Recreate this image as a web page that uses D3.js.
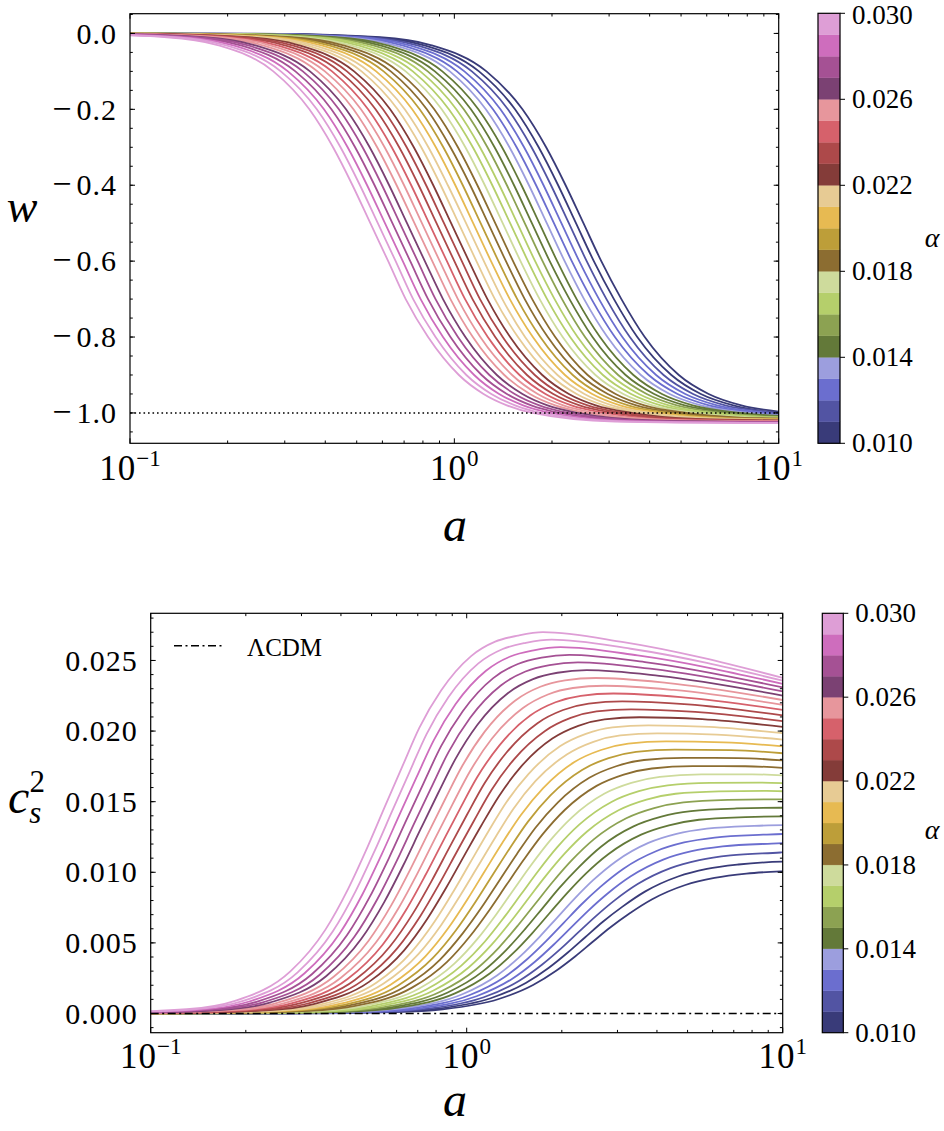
<!DOCTYPE html>
<html><head><meta charset="utf-8">
<script src="https://cdn.jsdelivr.net/npm/d3@7"></script>
<style>
body{margin:0;background:#fff}
svg{display:block}
</style>
</head><body><svg id="chart" width="944" height="1131"></svg>
<script>
// ---------------- data ----------------
const alphas = [0.01000,0.01069,0.01138,0.01207,0.01276,0.01345,0.01414,0.01483,0.01552,0.01621,
  0.01690,0.01759,0.01828,0.01897,0.01966,0.02034,0.02103,0.02172,0.02241,0.02310,
  0.02379,0.02448,0.02517,0.02586,0.02655,0.02724,0.02793,0.02862,0.02931,0.03000];

// w levels at which each curve's position (log10 a) was read
const wLevels = [-0.001,-0.01,-0.03,-0.1,-0.2,-0.3,-0.4,-0.5,-0.6,-0.7,-0.8,-0.9,-0.95,-0.98,-1.0];

// log10(a) of each level crossing (15 values) + one point near the asymptote
const logA = [
[-0.543,-0.229,-0.076,0.099,0.210,0.283,0.343,0.398,0.453,0.515,0.587,0.692,0.784,0.885,1.049,1.153],
[-0.566,-0.252,-0.099,0.076,0.187,0.260,0.320,0.375,0.430,0.492,0.564,0.669,0.760,0.860,1.021,1.130],
[-0.588,-0.274,-0.121,0.054,0.165,0.238,0.298,0.353,0.408,0.469,0.541,0.645,0.736,0.835,0.993,1.108],
[-0.611,-0.297,-0.144,0.031,0.142,0.215,0.275,0.330,0.385,0.446,0.518,0.622,0.712,0.810,0.965,1.085],
[-0.634,-0.320,-0.167,0.008,0.119,0.192,0.252,0.307,0.362,0.423,0.495,0.599,0.688,0.785,0.938,1.062],
[-0.656,-0.342,-0.189,-0.014,0.097,0.170,0.230,0.285,0.340,0.400,0.472,0.575,0.664,0.760,0.910,1.040],
[-0.679,-0.365,-0.212,-0.037,0.074,0.147,0.207,0.262,0.317,0.377,0.449,0.552,0.640,0.735,0.882,1.017],
[-0.702,-0.388,-0.235,-0.060,0.051,0.124,0.184,0.239,0.294,0.355,0.426,0.528,0.616,0.710,0.854,0.994],
[-0.724,-0.410,-0.257,-0.082,0.029,0.102,0.162,0.217,0.272,0.332,0.403,0.505,0.593,0.686,0.826,0.972],
[-0.747,-0.433,-0.280,-0.105,0.006,0.079,0.139,0.194,0.249,0.309,0.380,0.482,0.569,0.661,0.798,0.949],
[-0.770,-0.456,-0.303,-0.128,-0.017,0.057,0.117,0.172,0.227,0.286,0.357,0.458,0.545,0.636,0.770,0.927],
[-0.792,-0.478,-0.325,-0.150,-0.039,0.034,0.094,0.149,0.204,0.263,0.334,0.435,0.521,0.611,0.743,0.904],
[-0.815,-0.501,-0.348,-0.173,-0.062,0.011,0.071,0.126,0.181,0.240,0.311,0.411,0.497,0.586,0.715,0.881],
[-0.838,-0.524,-0.371,-0.196,-0.085,-0.012,0.049,0.104,0.159,0.217,0.288,0.388,0.473,0.561,0.687,0.859],
[-0.860,-0.546,-0.393,-0.218,-0.107,-0.034,0.026,0.081,0.136,0.194,0.265,0.365,0.449,0.536,0.659,0.836],
[-0.883,-0.569,-0.416,-0.241,-0.130,-0.057,0.003,0.058,0.113,0.171,0.242,0.341,0.425,0.511,0.631,0.813],
[-0.906,-0.592,-0.439,-0.264,-0.153,-0.080,-0.020,0.036,0.091,0.148,0.218,0.318,0.401,0.486,0.603,0.791],
[-0.928,-0.614,-0.461,-0.286,-0.175,-0.102,-0.042,0.013,0.068,0.125,0.196,0.295,0.377,0.461,0.575,0.768],
[-0.951,-0.637,-0.484,-0.309,-0.198,-0.125,-0.065,-0.010,0.045,0.102,0.172,0.271,0.353,0.436,0.547,0.745],
[-0.973,-0.659,-0.506,-0.331,-0.220,-0.147,-0.087,-0.032,0.023,0.079,0.149,0.248,0.329,0.411,0.520,0.723],
[-0.996,-0.682,-0.529,-0.354,-0.243,-0.170,-0.110,-0.055,0.000,0.056,0.126,0.224,0.305,0.386,0.492,0.700],
[-1.019,-0.705,-0.552,-0.377,-0.266,-0.193,-0.133,-0.078,-0.023,0.033,0.103,0.201,0.281,0.361,0.464,0.677],
[-1.041,-0.727,-0.574,-0.399,-0.288,-0.215,-0.155,-0.100,-0.045,0.011,0.080,0.178,0.257,0.336,0.436,0.655],
[-1.064,-0.750,-0.597,-0.422,-0.311,-0.238,-0.178,-0.123,-0.068,-0.012,0.057,0.154,0.233,0.311,0.408,0.632],
[-1.087,-0.773,-0.620,-0.445,-0.334,-0.261,-0.201,-0.146,-0.091,-0.035,0.034,0.131,0.210,0.287,0.380,0.609],
[-1.109,-0.795,-0.642,-0.467,-0.356,-0.283,-0.223,-0.168,-0.113,-0.058,0.011,0.108,0.186,0.262,0.352,0.587],
[-1.132,-0.818,-0.665,-0.490,-0.379,-0.306,-0.246,-0.191,-0.136,-0.081,-0.012,0.084,0.162,0.237,0.325,0.564],
[-1.155,-0.841,-0.688,-0.513,-0.402,-0.329,-0.269,-0.214,-0.159,-0.104,-0.035,0.061,0.138,0.212,0.297,0.541],
[-1.177,-0.863,-0.710,-0.535,-0.424,-0.351,-0.291,-0.236,-0.181,-0.127,-0.058,0.037,0.114,0.187,0.269,0.519],
[-1.200,-0.886,-0.733,-0.558,-0.447,-0.374,-0.314,-0.259,-0.204,-0.150,-0.081,0.014,0.090,0.162,0.241,0.496]
];

// w near the asymptote and at a = 10
const wNear = [-1.0048,-1.0054,-1.0060,-1.0067,-1.0073,-1.0079,-1.0084,-1.0091,-1.0098,-1.0104,
  -1.0110,-1.0116,-1.0122,-1.0129,-1.0135,-1.0141,-1.0147,-1.0154,-1.0160,-1.0166,
  -1.0172,-1.0178,-1.0184,-1.0190,-1.0196,-1.0202,-1.0209,-1.0215,-1.0221,-1.0227];
const wEnd = [-0.9963,-0.9988,-1.0010,-1.0031,-1.0049,-1.0065,-1.0079,-1.0093,-1.0105,-1.0117,
  -1.0127,-1.0137,-1.0146,-1.0156,-1.0164,-1.0172,-1.0181,-1.0189,-1.0197,-1.0204,
  -1.0211,-1.0218,-1.0225,-1.0232,-1.0238,-1.0245,-1.0251,-1.0257,-1.0264,-1.0270];

// c_s^2 at the same a positions (15 level points, near point, a = 10)
const cs2 = [
[0.00001,0.00010,0.00030,0.00101,0.00202,0.00303,0.00404,0.00506,0.00607,0.00708,0.00809,0.00910,0.00960,0.00991,0.01011,0.01016,0.01007],
[0.00001,0.00011,0.00032,0.00108,0.00216,0.00324,0.00432,0.00540,0.00648,0.00755,0.00863,0.00970,0.01024,0.01055,0.01076,0.01081,0.01075],
[0.00001,0.00011,0.00034,0.00115,0.00230,0.00345,0.00459,0.00574,0.00688,0.00803,0.00917,0.01030,0.01086,0.01120,0.01140,0.01145,0.01141],
[0.00001,0.00012,0.00037,0.00122,0.00243,0.00365,0.00487,0.00608,0.00729,0.00850,0.00970,0.01090,0.01149,0.01183,0.01203,0.01209,0.01206],
[0.00001,0.00013,0.00039,0.00129,0.00257,0.00386,0.00514,0.00642,0.00770,0.00897,0.01024,0.01149,0.01211,0.01246,0.01266,0.01272,0.01271],
[0.00001,0.00014,0.00041,0.00136,0.00271,0.00406,0.00541,0.00676,0.00810,0.00944,0.01077,0.01208,0.01272,0.01309,0.01329,0.01334,0.01334],
[0.00001,0.00014,0.00043,0.00142,0.00285,0.00427,0.00568,0.00710,0.00851,0.00991,0.01130,0.01267,0.01333,0.01372,0.01391,0.01395,0.01396],
[0.00001,0.00015,0.00045,0.00149,0.00298,0.00447,0.00596,0.00743,0.00891,0.01037,0.01183,0.01325,0.01394,0.01433,0.01452,0.01457,0.01457],
[0.00002,0.00016,0.00047,0.00156,0.00312,0.00467,0.00623,0.00777,0.00931,0.01084,0.01235,0.01383,0.01455,0.01495,0.01513,0.01517,0.01516],
[0.00002,0.00016,0.00049,0.00163,0.00326,0.00488,0.00650,0.00811,0.00971,0.01130,0.01287,0.01441,0.01515,0.01556,0.01573,0.01577,0.01574],
[0.00002,0.00017,0.00051,0.00170,0.00339,0.00508,0.00677,0.00844,0.01011,0.01176,0.01339,0.01498,0.01574,0.01616,0.01633,0.01635,0.01631],
[0.00002,0.00018,0.00053,0.00177,0.00353,0.00528,0.00703,0.00878,0.01051,0.01222,0.01391,0.01556,0.01633,0.01676,0.01693,0.01694,0.01686],
[0.00002,0.00018,0.00055,0.00183,0.00366,0.00549,0.00730,0.00911,0.01090,0.01268,0.01443,0.01612,0.01692,0.01735,0.01752,0.01751,0.01740],
[0.00002,0.00019,0.00057,0.00190,0.00380,0.00569,0.00757,0.00944,0.01130,0.01314,0.01494,0.01669,0.01751,0.01795,0.01810,0.01809,0.01792],
[0.00002,0.00020,0.00059,0.00197,0.00393,0.00589,0.00784,0.00977,0.01169,0.01359,0.01545,0.01725,0.01809,0.01853,0.01869,0.01865,0.01843],
[0.00002,0.00020,0.00061,0.00204,0.00407,0.00609,0.00811,0.01011,0.01209,0.01404,0.01596,0.01781,0.01866,0.01911,0.01927,0.01920,0.01892],
[0.00002,0.00021,0.00063,0.00210,0.00420,0.00629,0.00837,0.01044,0.01248,0.01450,0.01647,0.01836,0.01924,0.01969,0.01984,0.01975,0.01940],
[0.00002,0.00022,0.00065,0.00217,0.00434,0.00649,0.00864,0.01076,0.01287,0.01494,0.01697,0.01892,0.01980,0.02026,0.02041,0.02030,0.01985],
[0.00002,0.00022,0.00067,0.00224,0.00447,0.00669,0.00890,0.01109,0.01326,0.01539,0.01748,0.01947,0.02037,0.02083,0.02098,0.02084,0.02029],
[0.00002,0.00023,0.00069,0.00231,0.00461,0.00689,0.00917,0.01142,0.01365,0.01584,0.01798,0.02001,0.02093,0.02139,0.02154,0.02136,0.02071],
[0.00002,0.00024,0.00071,0.00237,0.00474,0.00709,0.00943,0.01175,0.01404,0.01629,0.01848,0.02056,0.02149,0.02195,0.02210,0.02189,0.02111],
[0.00002,0.00024,0.00073,0.00244,0.00487,0.00729,0.00970,0.01207,0.01442,0.01673,0.01897,0.02110,0.02204,0.02250,0.02266,0.02241,0.02150],
[0.00003,0.00025,0.00075,0.00251,0.00501,0.00749,0.00996,0.01240,0.01481,0.01717,0.01947,0.02163,0.02259,0.02305,0.02321,0.02291,0.02186],
[0.00003,0.00026,0.00077,0.00258,0.00514,0.00769,0.01022,0.01272,0.01519,0.01761,0.01996,0.02217,0.02314,0.02359,0.02376,0.02342,0.02220],
[0.00003,0.00026,0.00079,0.00264,0.00527,0.00789,0.01048,0.01305,0.01558,0.01805,0.02045,0.02270,0.02368,0.02413,0.02431,0.02391,0.02251],
[0.00003,0.00027,0.00081,0.00271,0.00541,0.00809,0.01074,0.01337,0.01596,0.01849,0.02094,0.02323,0.02422,0.02467,0.02486,0.02440,0.02281],
[0.00003,0.00028,0.00083,0.00278,0.00554,0.00829,0.01101,0.01369,0.01634,0.01893,0.02142,0.02375,0.02475,0.02520,0.02540,0.02489,0.02309],
[0.00003,0.00028,0.00085,0.00285,0.00567,0.00848,0.01127,0.01401,0.01672,0.01936,0.02191,0.02427,0.02528,0.02572,0.02594,0.02536,0.02334],
[0.00003,0.00029,0.00087,0.00291,0.00580,0.00868,0.01153,0.01433,0.01710,0.01979,0.02239,0.02479,0.02581,0.02625,0.02648,0.02583,0.02357],
[0.00003,0.00030,0.00089,0.00298,0.00594,0.00888,0.01178,0.01465,0.01748,0.02023,0.02287,0.02531,0.02633,0.02676,0.02701,0.02630,0.02377]
];

const aLeft = 0.05, wLeft = 0, cLeft = 0;   // far-left plateau
const aRight = 10;                          // last sampled a
const wRef = -1.0;                          // dotted reference line
const cRef = 0.0;                           // ΛCDM line
const xMajor = [0.1, 1, 10];
const xExp = ["−1", "0", "1"];
const wTicks = [0, -0.2, -0.4, -0.6, -0.8, -1.0];
const wTickLabels = ["0.0", "−0.2", "−0.4", "−0.6", "−0.8", "−1.0"];
const cTicks = [0, 0.005, 0.010, 0.015, 0.020, 0.025];
const cTickLabels = ["0.000", "0.005", "0.010", "0.015", "0.020", "0.025"];
const cbTicks = [0.010, 0.014, 0.018, 0.022, 0.026, 0.030];
const cbTickLabels = ["0.010", "0.014", "0.018", "0.022", "0.026", "0.030"];
const alphaRange = [0.01, 0.03];
const tab20b = ["#393b79","#5254a3","#6b6ecf","#9c9ede","#637939","#8ca252","#b5cf6b","#cedb9c",
  "#8c6d31","#bd9e39","#e7ba52","#e7cb94","#843c39","#ad494a","#d6616b","#e7969c",
  "#7b4173","#a55194","#ce6dbd","#de9ed6"];

// ---------------- drawing ----------------
const FONT = '"Liberation Serif", "Times New Roman", serif';
const svg = d3.select("#chart");
const color = d3.scaleQuantize().domain(alphaRange).range(tab20b);

function curvePoints(i) {
  const pts = [{a: aLeft, w: wLeft, c: cLeft}];
  wLevels.forEach((w, j) => pts.push({a: Math.pow(10, logA[i][j]), w: w, c: cs2[i][j]}));
  pts.push({a: Math.pow(10, logA[i][15]), w: wNear[i], c: cs2[i][15]});
  pts.push({a: aRight, w: wEnd[i], c: cs2[i][16]});
  pts.sort((p, q) => p.a - q.a);
  return pts;
}

function txt(parent) { return parent.append("text").attr("font-family", FONT).attr("fill", "#000"); }

function panel(cfg) {
  const g = svg.append("g");
  const x = d3.scaleLog().domain([0.1, 10]).range([cfg.l, cfg.r]);
  const y = d3.scaleLinear().domain(cfg.yDom).range([cfg.b, cfg.t]);

  g.append("clipPath").attr("id", cfg.id).append("rect")
    .attr("x", cfg.l).attr("y", cfg.t).attr("width", cfg.r - cfg.l).attr("height", cfg.b - cfg.t);
  const cg = g.append("g").attr("clip-path", `url(#${cfg.id})`);
  const line = d3.line().x(d => x(d.a)).y(d => y(d[cfg.key])).curve(d3.curveMonotoneX);
  alphas.forEach((al, i) => {
    cg.append("path").attr("d", line(curvePoints(i)))
      .attr("fill", "none").attr("stroke", color(al)).attr("stroke-width", 1.8)
      .attr("stroke-linejoin", "round");
  });
  cg.append("line").attr("x1", cfg.l).attr("x2", cfg.r)
    .attr("y1", y(cfg.ref)).attr("y2", y(cfg.ref))
    .attr("stroke", "#000").attr("stroke-width", cfg.refW).attr("stroke-dasharray", cfg.dash);

  g.append("rect").attr("x", cfg.l).attr("y", cfg.t).attr("width", cfg.r - cfg.l).attr("height", cfg.b - cfg.t)
    .attr("fill", "none").attr("stroke", "#000").attr("stroke-width", 1.2);

  const tk = g.append("g").attr("stroke", "#000").attr("stroke-width", 1);
  const MAJ = 5, MIN = 2.8;
  const xMinor = [];
  [0.1, 1].forEach(dec => { for (let k = 2; k <= 9; k++) xMinor.push(dec * k); });
  xMajor.forEach(v => {
    tk.append("line").attr("x1", x(v)).attr("x2", x(v)).attr("y1", cfg.b).attr("y2", cfg.b - MAJ);
    tk.append("line").attr("x1", x(v)).attr("x2", x(v)).attr("y1", cfg.t).attr("y2", cfg.t + MAJ);
  });
  xMinor.forEach(v => {
    tk.append("line").attr("x1", x(v)).attr("x2", x(v)).attr("y1", cfg.b).attr("y2", cfg.b - MIN);
    tk.append("line").attr("x1", x(v)).attr("x2", x(v)).attr("y1", cfg.t).attr("y2", cfg.t + MIN);
  });
  cfg.yTicks.forEach(v => {
    tk.append("line").attr("x1", cfg.l).attr("x2", cfg.l + MAJ).attr("y1", y(v)).attr("y2", y(v));
    tk.append("line").attr("x1", cfg.r).attr("x2", cfg.r - MAJ).attr("y1", y(v)).attr("y2", y(v));
  });
  cfg.yMinor.forEach(v => {
    if (y(v) < cfg.t - 0.5 || y(v) > cfg.b + 0.5) return;
    tk.append("line").attr("x1", cfg.l).attr("x2", cfg.l + MIN).attr("y1", y(v)).attr("y2", y(v));
    tk.append("line").attr("x1", cfg.r).attr("x2", cfg.r - MIN).attr("y1", y(v)).attr("y2", y(v));
  });

  cfg.yTicks.forEach((v, k) => {
    const lab = cfg.yLabels[k];
    const t = txt(g).attr("x", cfg.l - 13).attr("y", y(v)).attr("dy", "0.34em")
      .attr("text-anchor", "end").attr("font-size", 30).attr("letter-spacing", 1);
    if (lab.startsWith("−")) {
      t.append("tspan").attr("font-size", 34).attr("letter-spacing", 5).text("−");
      t.append("tspan").text(lab.slice(1));
    } else {
      t.text(lab);
    }
  });
  xMajor.forEach((v, k) => {
    const t = txt(g).attr("x", x(v)).attr("y", cfg.xLabY).attr("text-anchor", "middle");
    t.append("tspan").attr("font-size", 35).attr("letter-spacing", 1).text("10");
    t.append("tspan").attr("font-size", 23).attr("dy", -14).text(xExp[k]);
  });

  const cb = cfg.cb;
  const cy = d3.scaleLinear().domain(alphaRange).range([cb.b, cb.t]);
  const edges = [alphaRange[0], ...color.thresholds(), alphaRange[1]];
  tab20b.forEach((col, k) => {
    g.append("rect").attr("x", cb.l).attr("width", cb.w)
      .attr("y", cy(edges[k + 1])).attr("height", cy(edges[k]) - cy(edges[k + 1]))
      .attr("fill", col).attr("stroke", col).attr("stroke-width", 0.3);
  });
  g.append("rect").attr("x", cb.l).attr("y", cb.t).attr("width", cb.w).attr("height", cb.b - cb.t)
    .attr("fill", "none").attr("stroke", "#000").attr("stroke-width", 1.2);
  cbTicks.forEach((v, k) => {
    g.append("line").attr("x1", cb.l + cb.w).attr("x2", cb.l + cb.w + 5)
      .attr("y1", cy(v)).attr("y2", cy(v)).attr("stroke", "#000").attr("stroke-width", 1);
    txt(g).attr("x", cb.l + cb.w + 12).attr("y", Math.max(cy(v), 15)).attr("dy", "0.34em")
      .attr("font-size", 27).text(cbTickLabels[k]);
  });
  txt(g).attr("x", cb.alphaX).attr("y", cb.alphaY).attr("text-anchor", "middle")
    .attr("font-size", 28).attr("font-style", "italic").text("α");
  return {g, x, y};
}

const panelW = panel({
  id: "clipTop", key: "w", l: 130, r: 778.7, t: 13.7, b: 443.3, yDom: [-1.08, 0.052],
  yTicks: wTicks, yLabels: wTickLabels, yMinor: d3.range(-21, 2).map(k => k * 0.05),
  ref: wRef, refW: 1.6, dash: "1.6,2.9", xLabY: 480,
  cb: {l: 818, w: 22, t: 13.3, b: 443.3, alphaX: 932, alphaY: 247}
});
const panelC = panel({
  id: "clipBot", key: "c", l: 150.7, r: 782.7, t: 613.3, b: 1032.7, yDom: [-0.00136, 0.02834],
  yTicks: cTicks, yLabels: cTickLabels, yMinor: d3.range(-1, 29).map(k => k * 0.001),
  ref: cRef, refW: 1.5, dash: "8,3.5,2,3.5", xLabY: 1068,
  cb: {l: 822.3, w: 21, t: 613.3, b: 1032.7, alphaX: 932, alphaY: 839}
});

txt(svg).attr("x", 22).attr("y", 222).attr("text-anchor", "middle")
  .attr("font-size", 46).attr("font-style", "italic").text("w");
txt(svg).attr("x", 455).attr("y", 541).attr("text-anchor", "middle")
  .attr("font-size", 48).attr("font-style", "italic").text("a");
txt(svg).attr("x", 455).attr("y", 1116).attr("text-anchor", "middle")
  .attr("font-size", 48).attr("font-style", "italic").text("a");
// c_s^2 as one text with sub/superscript
const cLab = txt(svg).attr("x", 8).attr("y", 813).attr("font-style", "italic");
cLab.append("tspan").attr("font-size", 48).text("c");
cLab.append("tspan").attr("font-size", 31).attr("dy", 10).text("s");
cLab.append("tspan").attr("font-size", 31).attr("font-style", "normal")
  .attr("dx", -12).attr("dy", -31).text("2");

svg.append("line").attr("x1", 174).attr("x2", 225).attr("y1", 645.7).attr("y2", 645.7)
  .attr("stroke", "#000").attr("stroke-width", 1.5).attr("stroke-dasharray", "8,3.5,2,3.5");
txt(svg).attr("x", 247).attr("y", 656).attr("font-size", 25).text("ΛCDM");
</script>
</body></html>
